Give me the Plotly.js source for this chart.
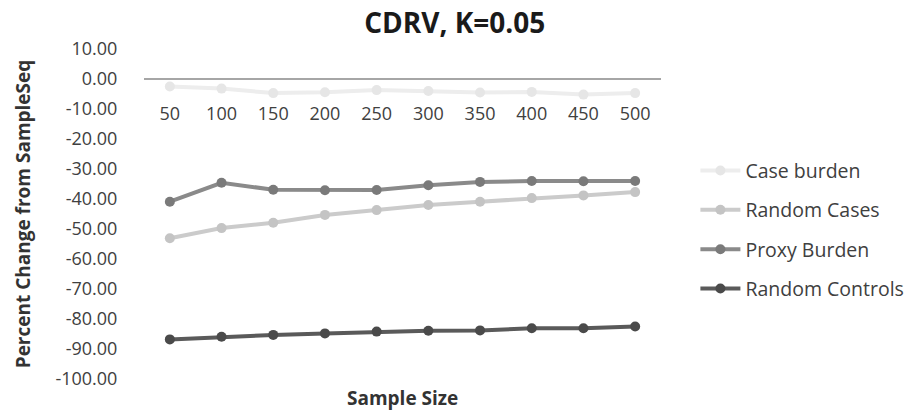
<!DOCTYPE html>
<html>
<head>
<meta charset="utf-8">
<script src="https://cdn.plot.ly/plotly-3.0.1.min.js"></script>
<style>html,body{margin:0;padding:0;background:#fff;}#chart{width:915px;height:413px;}</style>
</head>
<body>
<div id="chart"></div>
<script>
const sampleSizes = ["50","100","150","200","250","300","350","400","450","500"];
const caseBurden = [-2.5,-3.2,-4.7,-4.4,-3.7,-4.0,-4.5,-4.3,-5.2,-4.7];
const randomCases = [-53.1,-49.7,-47.9,-45.3,-43.7,-42.0,-40.9,-39.7,-38.8,-37.7];
const proxyBurden = [-40.9,-34.6,-36.9,-37.1,-37.0,-35.4,-34.3,-34.0,-34.1,-34.0];
const randomControls = [-86.8,-85.9,-85.3,-84.8,-84.2,-83.9,-83.8,-83.1,-83.1,-82.5];
const yTicks = [10,0,-10,-20,-30,-40,-50,-60,-70,-80,-90,-100];
const yTickText = yTicks.map(v => v.toFixed(2));

const FONT = "Open Sans, Liberation Sans, sans-serif";
function tr(name, y, lineColor, markColor, grp){
  return {
    x: sampleSizes, y: y, name: name, type: "scatter", mode: "lines+markers",
    line: {color: lineColor, width: 4},
    marker: {color: markColor, size: 10},
    legendgroup: grp
  };
}
const data = [
  tr("Case burden", caseBurden, "#ededed", "#e6e6e6", "a"),
  tr("Random Cases", randomCases, "#cbcbcb", "#c4c4c4", "b"),
  tr("Proxy Burden", proxyBurden, "#8a8a8a", "#7a7a7a", "c"),
  tr("Random Controls", randomControls, "#5a5a5a", "#4a4a4a", "d")
];
const layout = {
  width: 915, height: 413,
  margin: {l: 144, r: 254, t: 49, b: 34, autoexpand: false},
  paper_bgcolor: "#fff", plot_bgcolor: "#fff",
  font: {family: FONT, color: "#404040"},
  title: {text: "CDRV, K=0.05", x: 0.497, xanchor: "center", y: 0.945, yanchor: "middle",
          font: {family: FONT, size: 28, color: "#1a1a1a", weight: "bold"}},
  xaxis: {
    type: "category", anchor: "free", position: (379-79)/330, automargin: false,
    showline: false, showgrid: false, zeroline: false,
    ticks: "outside", ticklen: 18, tickcolor: "rgba(0,0,0,0)",
    tickfont: {family: FONT, size: 18, color: "#404040"},
    range: [-0.5, 9.5]
  },
  yaxis: {
    range: [-100, 10], tickvals: yTicks, ticktext: yTickText, automargin: false,
    showline: false, showgrid: false,
    zeroline: true, zerolinecolor: "#a6a6a6", zerolinewidth: 2,
    ticks: "outside", ticklen: 22, tickcolor: "rgba(0,0,0,0)",
    tickfont: {family: FONT, size: 18, color: "#404040"},
    title: {text: "Percent Change from SampleSeq", standoff: 19,
            font: {family: FONT, size: 19, color: "#333", weight: "bold"}}
  },
  legend: {
    xref: "container", x: 0.760, xanchor: "left", y: 0.69, yanchor: "top",
    font: {family: FONT, size: 19.5, color: "#404040"},
    tracegroupgap: 11, itemwidth: 40, bgcolor: "rgba(0,0,0,0)"
  },
  annotations: [{
    text: "Sample Size", xref: "paper", yref: "paper", x: 0.5, y: -(398-379)/330,
    xanchor: "center", yanchor: "middle", showarrow: false,
    font: {family: FONT, size: 19, color: "#333", weight: "bold"}
  }],
  showlegend: true
};
Plotly.newPlot("chart", data, layout, {displayModeBar: false, staticPlot: true});
</script>
</body>
</html>
